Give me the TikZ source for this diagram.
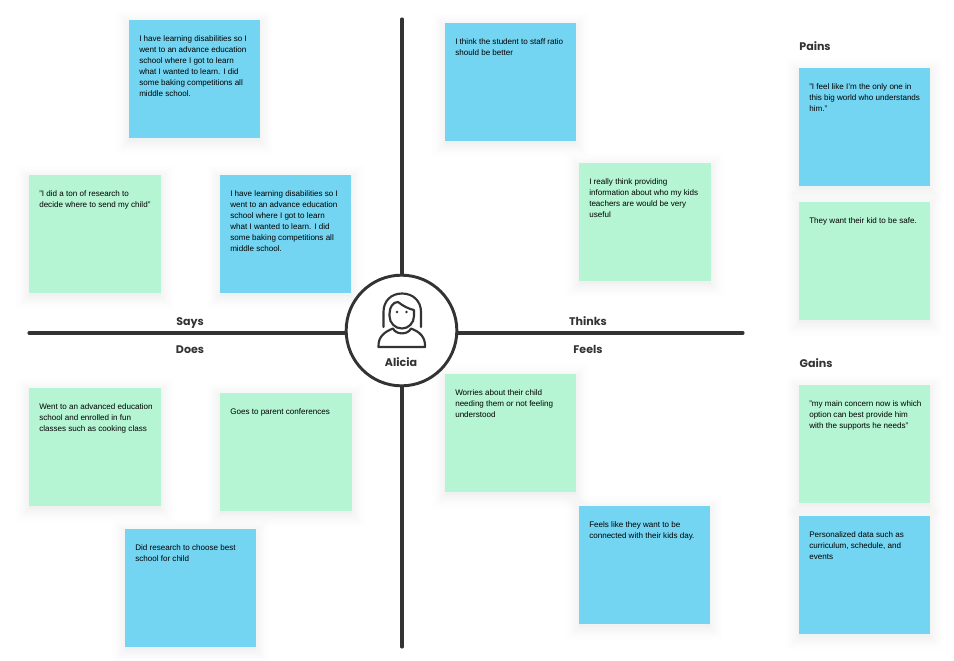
\documentclass[tikz,border=0pt]{standalone}
\usepackage{fontspec}
\setmainfont{Liberation Sans}
\newfontfamily\headfont{Poppins}
\definecolor{noteblue}{HTML}{74D5F2}
\definecolor{notegreen}{HTML}{B5F5D4}
\definecolor{ink}{HTML}{333333}
\tikzset{
  x=0.75pt,y=-0.75pt,
  axis/.style={draw=ink,line width=2.3pt,line cap=round},
  iconline/.style={draw=ink,line width=1.6pt,line cap=round,line join=round},
  head/.style={font=\headfont\bfseries\fontsize{8.3}{10}\selectfont,text=ink,inner sep=0pt,anchor=base},
  notetext/.style={font=\fontsize{6.05}{8.3}\selectfont,text=black,align=left,inner sep=0pt,anchor=north west},
}
% #1 name, #2 x, #3 y, #4 w, #5 colour, #6 text
\newcommand{\sticky}[6]{%
  \foreach \g in {13,11,9,8,7,6,5,4,3,2,1,0,0,0}{%
    \fill[black,opacity=0.004] (#2-\g,#3+3-\g) rectangle (#2+#4+\g,#3+121+\g);}
  \fill[#5] (#2,#3) rectangle (#2+#4,#3+118);
  \node[notetext] (#1) at (#2+10,#3+15.5) {#6};
}
\begin{document}
\begin{tikzpicture}
\useasboundingbox (0,0) rectangle (954,661);
\fill[white] (0,0) rectangle (954,661);
\coordinate (top) at (402,19);
\coordinate (bottom) at (402,647);
\coordinate (left) at (29,333);
\coordinate (right) at (743,333);
\draw[axis] (top) -- (bottom);
\draw[axis] (left) -- (right);
\sticky{a}{129}{20}{131}{noteblue}{I have learning disabilities so I\\went to an advance education\\school where I got to learn\\what I wanted to learn. I did\\some baking competitions all\\middle school.}
\sticky{b}{29}{175}{132}{notegreen}{"I did a ton of research to\\decide where to send my child"}
\sticky{c}{220}{175}{131}{noteblue}{I have learning disabilities so I\\went to an advance education\\school where I got to learn\\what I wanted to learn. I did\\some baking competitions all\\middle school.}
\sticky{d}{445}{23}{131}{noteblue}{I think the student to staff ratio\\should be better}
\sticky{e}{579}{163}{132}{notegreen}{I really think providing\\information about who my kids\\teachers are would be very\\useful}
\sticky{f}{799}{68}{131}{noteblue}{"I feel like I'm the only one in\\this big world who understands\\him."}
\sticky{g}{799}{202}{131}{notegreen}{They want their kid to be safe.}
\sticky{h}{799}{385}{131}{notegreen}{"my main concern now is which\\option can best provide him\\with the supports he needs"}
\sticky{i}{799}{516}{131}{noteblue}{Personalized data such as\\curriculum, schedule, and\\events}
\sticky{j}{29}{388}{132}{notegreen}{Went to an advanced education\\school and enrolled in fun\\classes such as cooking class}
\sticky{k}{220}{393}{132}{notegreen}{Goes to parent conferences}
\sticky{l}{125}{529}{131}{noteblue}{Did research to choose best\\school for child}
\sticky{m}{445}{374}{131}{notegreen}{Worries about their child\\needing them or not feeling\\understood}
\sticky{n}{579}{506}{131}{noteblue}{Feels like they want to be\\connected with their kids day.}
\node[head] (says) at (190,325) {Says};
\node[head] (does) at (190,353) {Does};
\node[head] (thinks) at (588,325) {Thinks};
\node[head] (feels) at (588,353) {Feels};
\node[head] (pains) at (815,50) {Pains};
\node[head] (gains) at (816,367) {Gains};
\node[circle,draw=ink,line width=2.2pt,fill=white,minimum size=83pt,inner sep=0pt] (hub) at (401.5,330.5) {};
\node[head] (alicia) at (401,366) {Alicia};
% icon
\draw[iconline] (383.5,327) -- (383.5,312) .. controls (383.5,301) and (391,293.5) .. (402,293.5) .. controls (413,293.5) and (421,301) .. (421,312) -- (421,327);
\draw[iconline] (389.5,314) .. controls (389.5,307) and (393,302) .. (398,302) .. controls (403,306) and (409,309) .. (414,310) -- (414,316) .. controls (414,323) and (408.5,328.5) .. (402,328.5) .. controls (395,328.5) and (389.5,323) .. (389.5,316) -- cycle;
\draw[iconline] (393,328.5) .. controls (384,332) and (378,337) .. (378.5,347) -- (425,347) .. controls (425.5,337) and (420,332) .. (411,328.5) .. controls (408,335) and (396,335) .. (393,328.5) -- cycle;
\fill[ink] (397,312) circle (1.3);
\fill[ink] (406.5,312) circle (1.3);
\end{tikzpicture}
\end{document}
